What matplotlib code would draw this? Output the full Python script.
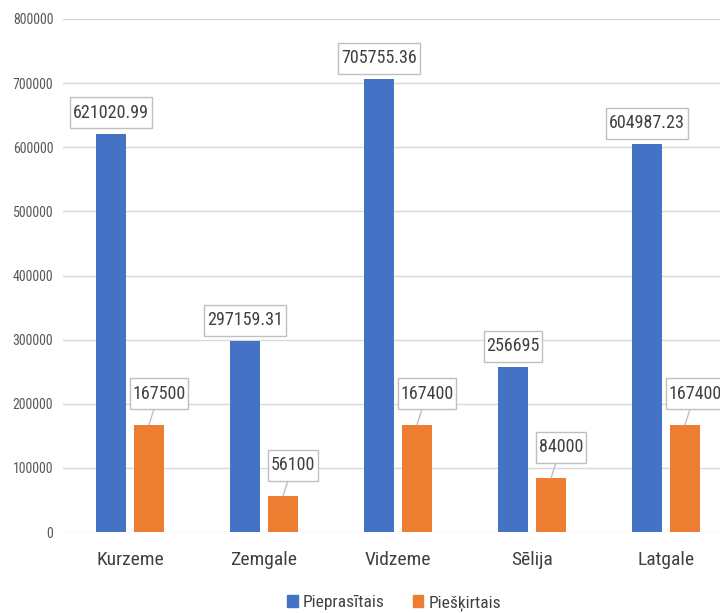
import numpy as np
import matplotlib.pyplot as plt
from matplotlib.patches import Patch
from matplotlib.path import Path

regions = ['Kurzeme', 'Zemgale', 'Vidzeme', 'Sēlija', 'Latgale']
pieprasitais = [621020.99, 297159.31, 705755.36, 256695, 604987.23]
pieskirtais = [167500, 56100, 167400, 84000, 167400]
blue_labels = ['621020.99', '297159.31', '705755.36', '256695', '604987.23']
orange_labels = ['167500', '56100', '167400', '84000', '167400']

blue = '#4472C4'
orange = '#ED7D31'
plt.rcParams['font.family'] = ['Roboto Condensed', 'Liberation Sans', 'DejaVu Sans']


def label_box(x0, y0, width, height, mutation_size):
    # narrow sides, tall top/bottom like the excel data labels
    px = 0.15 * mutation_size
    py = 0.36 * mutation_size
    return Path([(x0 - px, y0 - py), (x0 + width + px, y0 - py),
                 (x0 + width + px, y0 + height + py), (x0 - px, y0 + height + py),
                 (x0 - px, y0 - py)], closed=True)


fig = plt.figure(figsize=(7.2, 6.13), dpi=100)
ax = fig.add_axes([63/720, 81/613, 670/720, 513/613])

x = np.arange(len(regions))
w = 0.224
off = 0.142
ax.bar(x - off, pieprasitais, w, color=blue, zorder=3)
ax.bar(x + off, pieskirtais, w, color=orange, zorder=3)

ax.set_xlim(-0.5, 4.5)
ax.set_ylim(0, 800000)
ax.set_yticks(np.arange(0, 800001, 100000))
ax.yaxis.grid(True, color='#d9d9d9', lw=1, zorder=0)
for s in ax.spines.values():
    s.set_visible(False)
ax.set_xticks(x)
ax.set_xticklabels(regions)
ax.tick_params(axis='y', length=0, pad=7, labelsize=10, labelcolor='#595959')
ax.tick_params(axis='x', length=0, pad=14, labelsize=14, labelcolor='#404040')

box = dict(boxstyle=label_box, fc='white', ec='#bfbfbf', lw=1)
for xi, v, lab in zip(x, pieprasitais, blue_labels):
    ax.annotate(lab, xy=(xi - off, v), xytext=(0, 12), textcoords='offset pixels',
                ha='center', va='bottom', fontsize=13, color='#404040',
                bbox=box, zorder=5, annotation_clip=False)
for xi, v, lab in zip(x, pieskirtais, orange_labels):
    ax.annotate(lab, xy=(xi + off, v), xytext=(10, 22), textcoords='offset pixels',
                ha='center', va='bottom', fontsize=13, color='#404040',
                bbox=box, zorder=5, annotation_clip=False,
                arrowprops=dict(arrowstyle='-', color='#bfbfbf', lw=1,
                                shrinkA=0, shrinkB=0))

handles = [Patch(color=blue, label='Pieprasītais'), Patch(color=orange, label='Piešķirtais')]
fig.legend(handles=handles, loc='center', bbox_to_anchor=(394/720, 1 - 603/613),
           ncol=2, frameon=False, fontsize=12.5, handlelength=0.6, handleheight=0.6,
           handletextpad=0.3, columnspacing=1.6, labelcolor='#404040')

fig.savefig('out.png', dpi=100)
